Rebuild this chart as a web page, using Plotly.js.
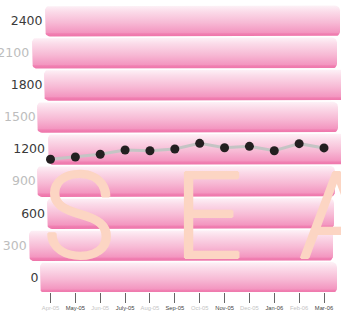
<!DOCTYPE html>
<html><head><meta charset="utf-8">
<script src="https://cdn.plot.ly/plotly-3.0.1.min.js"></script>
<style>html,body{margin:0;padding:0;background:#fff;}#chart{width:341px;height:315px;}</style>
</head><body><div id="chart"></div>
<script>
// ---- data ----
const months = ['Apr-05','May-05','Jun-05','July-05','Aug-05','Sep-05','Oct-05','Nov-05','Dec-05','Jan-06','Feb-06','Mar-06'];
const values = [1104,1125,1151,1191,1184,1200,1253,1212,1225,1184,1250,1210];
const yTickVals = [0,300,600,900,1200,1500,1800,2100,2400];
const yTickText = ['0','300','600','900','1200','1500','1800','2100','2400'];
const watermark = ['S','E','A'];

// ---- styling / layout helpers ----
const W = 341, H = 315, B = 23;
const plotH = H - B;
const yMin = -137.5, yMax = 2593.5;
const upp = (yMax - yMin) / plotH; // data units per pixel
// band decoration geometry (pixels) per y tick
const bandLeft  = [40, 29, 47, 37, 48, 37, 44, 32, 45];
const bandRight = [337, 333, 334, 335, 345, 338, 345, 337, 340];
const labelPad  = [7, 18.4, 0, 10, 0, 10, 3.4, 16, 2.7];
const darkLab = '#3a3a3a', lightLab = '#bdbdbd';
const wmColor = '#fcd5c3';

function padStr(px){
  let s=''; const nb=4.1, th=2.6, hr=1.3;
  while(px >= nb-0.6){ s+='\u00a0'; px-=nb; }
  while(px >= th-0.6){ s+='\u2009'; px-=th; }
  while(px >= hr-0.5){ s+='\u200a'; px-=hr; }
  return s;
}
function roundRect(x0,x1,y0,y1,r){
  const rx=r, ry=r*upp, xs=[], ys=[], n=6;
  const corners=[[x1-rx,y1-ry,0],[x0+rx,y1-ry,90],[x0+rx,y0+ry,180],[x1-rx,y0+ry,270]];
  corners.forEach(c=>{for(let i=0;i<=n;i++){const a=(c[2]+90*i/n)*Math.PI/180;xs.push(c[0]+rx*Math.cos(a));ys.push(c[1]+ry*Math.sin(a));}});
  xs.push(xs[0]); ys.push(ys[0]);
  return {xs,ys};
}

const traces = [];
yTickVals.forEach((v,i)=>{
  const rr = roundRect(bandLeft[i], bandRight[i], v-148, v+142, 5);
  traces.push({
    x: rr.xs, y: rr.ys, xaxis:'x', yaxis:'y', mode:'lines', fill:'toself',
    line:{width:0, color:'rgba(0,0,0,0)'}, fillcolor:'#f7b8d4',
    fillgradient:{type:'vertical', colorscale:[[0,'#ee74a9'],[0.09,'#f080b2'],[0.13,'#f396c0'],[0.45,'#f7bad5'],[0.8,'#fbdbe9'],[1,'#fdf2f7']]},
    hoverinfo:'skip', showlegend:false
  });
});
traces.push({
  x: months, y: values, xaxis:'x2', yaxis:'y', mode:'lines+markers',
  line:{color:'#c4c4c4', width:3}, marker:{color:'#231f20', size:9},
  showlegend:false, hoverinfo:'skip'
});

const idx0 = 50.5, step = (324-50.5)/11;
const layout = {
  width: W, height: H, margin:{l:0,r:0,t:0,b:B,pad:0},
  paper_bgcolor:'#fff', plot_bgcolor:'#fff', showlegend:false,
  xaxis:{range:[0,W], visible:false, fixedrange:true},
  xaxis2:{overlaying:'x', anchor:'y', side:'bottom', type:'category',
    range:[-idx0/step, 11 + (W-324)/step],
    showgrid:false, zeroline:false, showline:false,
    ticks:'outside', ticklen:10, tickwidth:1, tickcolor:'#666',
    tickmode:'array', tickvals: months,
    ticktext: months.map((m,i)=>'<span style="color:'+(i%2? '#444':'#c4c4c4')+'">'+m+'</span>'),
    tickfont:{family:'Liberation Sans, Arial, sans-serif', size:5.8, color:'#444'}, tickangle:0},
  yaxis:{range:[yMin,yMax], anchor:'free', position:45/W, showgrid:false, zeroline:false, showline:false, ticks:'',
    tickmode:'array', tickvals: yTickVals,
    ticktext: yTickText.map((t,i)=>'<span style="color:'+(i%2? lightLab:darkLab)+'">'+t+padStr(labelPad[i])+'</span>'),
    tickfont:{family:'DejaVu Sans, sans-serif', size:12.5, color:darkLab}},
  annotations: watermark.map((ch,i)=>({
    text: ch, showarrow:false, xref:'x', yref:'y',
    x:[79, 208.7, 337][i], y: 565, xanchor:'center', yanchor:'middle',
    font:{family:'Roboto, sans-serif', weight:300, size:121, color:wmColor,
      shadow:'1px 0 0 '+wmColor+', -1px 0 0 '+wmColor+', 0 1px 0 '+wmColor+', 0 -1px 0 '+wmColor}
  }))
};
Plotly.newPlot('chart', traces, layout, {staticPlot:true, displayModeBar:false});
</script></body></html>
